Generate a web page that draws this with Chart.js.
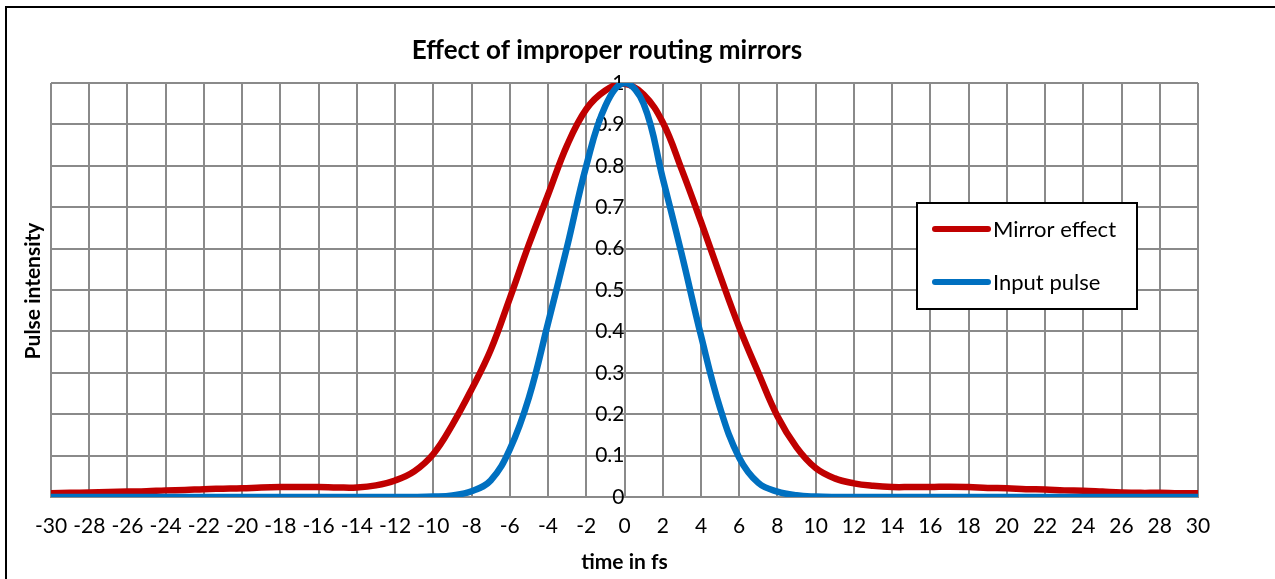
<!DOCTYPE html>
<html>
<head>
<meta charset="utf-8">
<script src="https://cdn.jsdelivr.net/npm/chart.js@4.4.0/dist/chart.umd.min.js"></script>
<style>
  html, body { margin: 0; padding: 0; background: #fff; }
  #wrap { position: relative; width: 1275px; height: 579px; overflow: hidden; }
  #wrap canvas { position: absolute; left: 0; top: 0; }
  #frame { position: absolute; left: 5px; top: 6px; width: 1400px; height: 700px; border: 2px solid #000; pointer-events: none; }
</style>
</head>
<body>
<div id="wrap">
  <canvas id="pulseChart" width="1275" height="579"></canvas>
  <div id="frame"></div>
</div>
<script>
// time axis, -30 .. 30 fs
const timeFs = [
  -30, -29, -28, -27, -26, -25, -24, -23, -22, -21,
  -20, -19, -18, -17, -16, -15, -14, -13, -12, -11,
  -10, -9, -8, -7, -6, -5, -4, -3, -2, -1,
  0, 1, 2, 3, 4, 5, 6, 7, 8, 9,
  10, 11, 12, 13, 14, 15, 16, 17, 18, 19,
  20, 21, 22, 23, 24, 25, 26, 27, 28, 29, 30
];

const mirrorEffect = [
  0.009, 0.010, 0.011, 0.012, 0.013, 0.014, 0.016, 0.017, 0.019, 0.020,
  0.021, 0.023, 0.024, 0.024, 0.024, 0.023, 0.023, 0.028, 0.040, 0.062,
  0.104, 0.175, 0.26, 0.355, 0.48, 0.61, 0.73, 0.85, 0.937, 0.982,
  0.998, 0.972, 0.905, 0.79, 0.665, 0.535, 0.41, 0.30, 0.195, 0.12,
  0.07, 0.045, 0.033, 0.027, 0.024, 0.024, 0.024, 0.025, 0.024, 0.022,
  0.021, 0.019, 0.018, 0.016, 0.015, 0.013, 0.011, 0.010, 0.010, 0.009, 0.009
];

const inputPulse = [
  0, 0, 0, 0, 0, 0, 0, 0, 0, 0,
  0, 0, 0, 0, 0, 0, 0, 0, 0, 0,
  0.001, 0.004, 0.014, 0.04, 0.115, 0.24, 0.42, 0.605, 0.80, 0.945,
  1.0, 0.95, 0.77, 0.585, 0.39, 0.215, 0.095, 0.034, 0.013, 0.004,
  0.001, 0, 0, 0, 0, 0, 0, 0, 0, 0,
  0, 0, 0, 0, 0, 0, 0, 0, 0, 0, 0
];

const seriesNames = ['Mirror effect', 'Input pulse'];
const seriesColors = ['#c00000', '#0070c0'];

const chartTitle = 'Effect of improper routing mirrors';
const xTitle = 'time in fs';
const yTitle = 'Pulse intensity';

const gridGrey = '#8a8a8a';
const fontFamily = "Lato, 'Open Sans', sans-serif";

Chart.defaults.font.family = fontFamily;
Chart.defaults.color = '#000';

const toPoints = (vals) => vals.map((v, i) => ({ x: timeFs[i], y: v }));

// chart title + rotated y title, drawn by hand so they sit where excel put them
const titlesPlugin = {
  id: 'titles',
  afterDraw(chart) {
    const ctx = chart.ctx;
    ctx.save();
    ctx.fillStyle = '#000';
    ctx.textAlign = 'center';
    ctx.textBaseline = 'middle';
    ctx.font = `bold 26px ${fontFamily}`;
    ctx.fillText(chartTitle, 607, 51);

    ctx.translate(33, 291);
    ctx.rotate(-Math.PI / 2);
    ctx.font = `bold 21px ${fontFamily}`;
    ctx.fillText(yTitle, 0, 0);
    ctx.restore();
  }
};

// boxed legend inside the plot, right side
const boxLegendPlugin = {
  id: 'boxLegend',
  afterDraw(chart) {
    const ctx = chart.ctx;
    const box = { x: 917, y: 203, w: 220, h: 106 };
    ctx.save();
    ctx.fillStyle = '#fff';
    ctx.fillRect(box.x, box.y, box.w, box.h);
    ctx.strokeStyle = '#000';
    ctx.lineWidth = 2;
    ctx.strokeRect(box.x, box.y, box.w, box.h);

    ctx.font = `22px ${fontFamily}`;
    ctx.textBaseline = 'middle';
    ctx.textAlign = 'left';
    chart.data.datasets.forEach((ds, i) => {
      const y = 229 + i * 53;
      ctx.strokeStyle = ds.borderColor;
      ctx.lineWidth = 6;
      ctx.lineCap = 'round';
      ctx.beginPath();
      ctx.moveTo(935, y);
      ctx.lineTo(988, y);
      ctx.stroke();
      ctx.fillStyle = '#000';
      ctx.fillText(ds.label, 993, y + 1);
    });
    ctx.restore();
  }
};

new Chart(document.getElementById('pulseChart'), {
  type: 'line',
  data: {
    datasets: [
      {
        label: seriesNames[0],
        data: toPoints(mirrorEffect),
        borderColor: seriesColors[0],
        backgroundColor: seriesColors[0],
        borderWidth: 6.5,
        pointRadius: 0,
        tension: 0.4,
        order: 2
      },
      {
        label: seriesNames[1],
        data: toPoints(inputPulse),
        borderColor: seriesColors[1],
        backgroundColor: seriesColors[1],
        borderWidth: 6.5,
        pointRadius: 0,
        tension: 0.4,
        order: 1
      }
    ]
  },
  options: {
    responsive: false,
    animation: false,
    devicePixelRatio: 1,
    layout: { padding: { left: 51, right: 77, top: 83, bottom: 0 } },
    plugins: {
      legend: { display: false },
      title: { display: false },
      tooltip: { enabled: false }
    },
    scales: {
      x: {
        type: 'linear',
        min: -30,
        max: 30,
        afterFit: (scale) => { scale.height = 82; },
        ticks: { stepSize: 2, padding: 17, maxRotation: 0, font: { size: 21 } },
        grid: { color: gridGrey, lineWidth: 2, drawTicks: false },
        border: { color: gridGrey, width: 2 },
        title: {
          display: true,
          text: xTitle,
          font: { size: 21, weight: 'bold' },
          padding: { top: 0, bottom: 4 }
        }
      },
      y: {
        type: 'linear',
        position: { x: 0 },
        min: 0,
        max: 1,
        ticks: {
          stepSize: 0.1,
          padding: 10,
          font: { size: 21 },
          callback: (v) => String(Number(v.toFixed(1)))
        },
        grid: { color: gridGrey, lineWidth: 2, drawTicks: false },
        border: { color: gridGrey, width: 2 }
      }
    }
  },
  plugins: [titlesPlugin, boxLegendPlugin]
});
</script>
</body>
</html>
